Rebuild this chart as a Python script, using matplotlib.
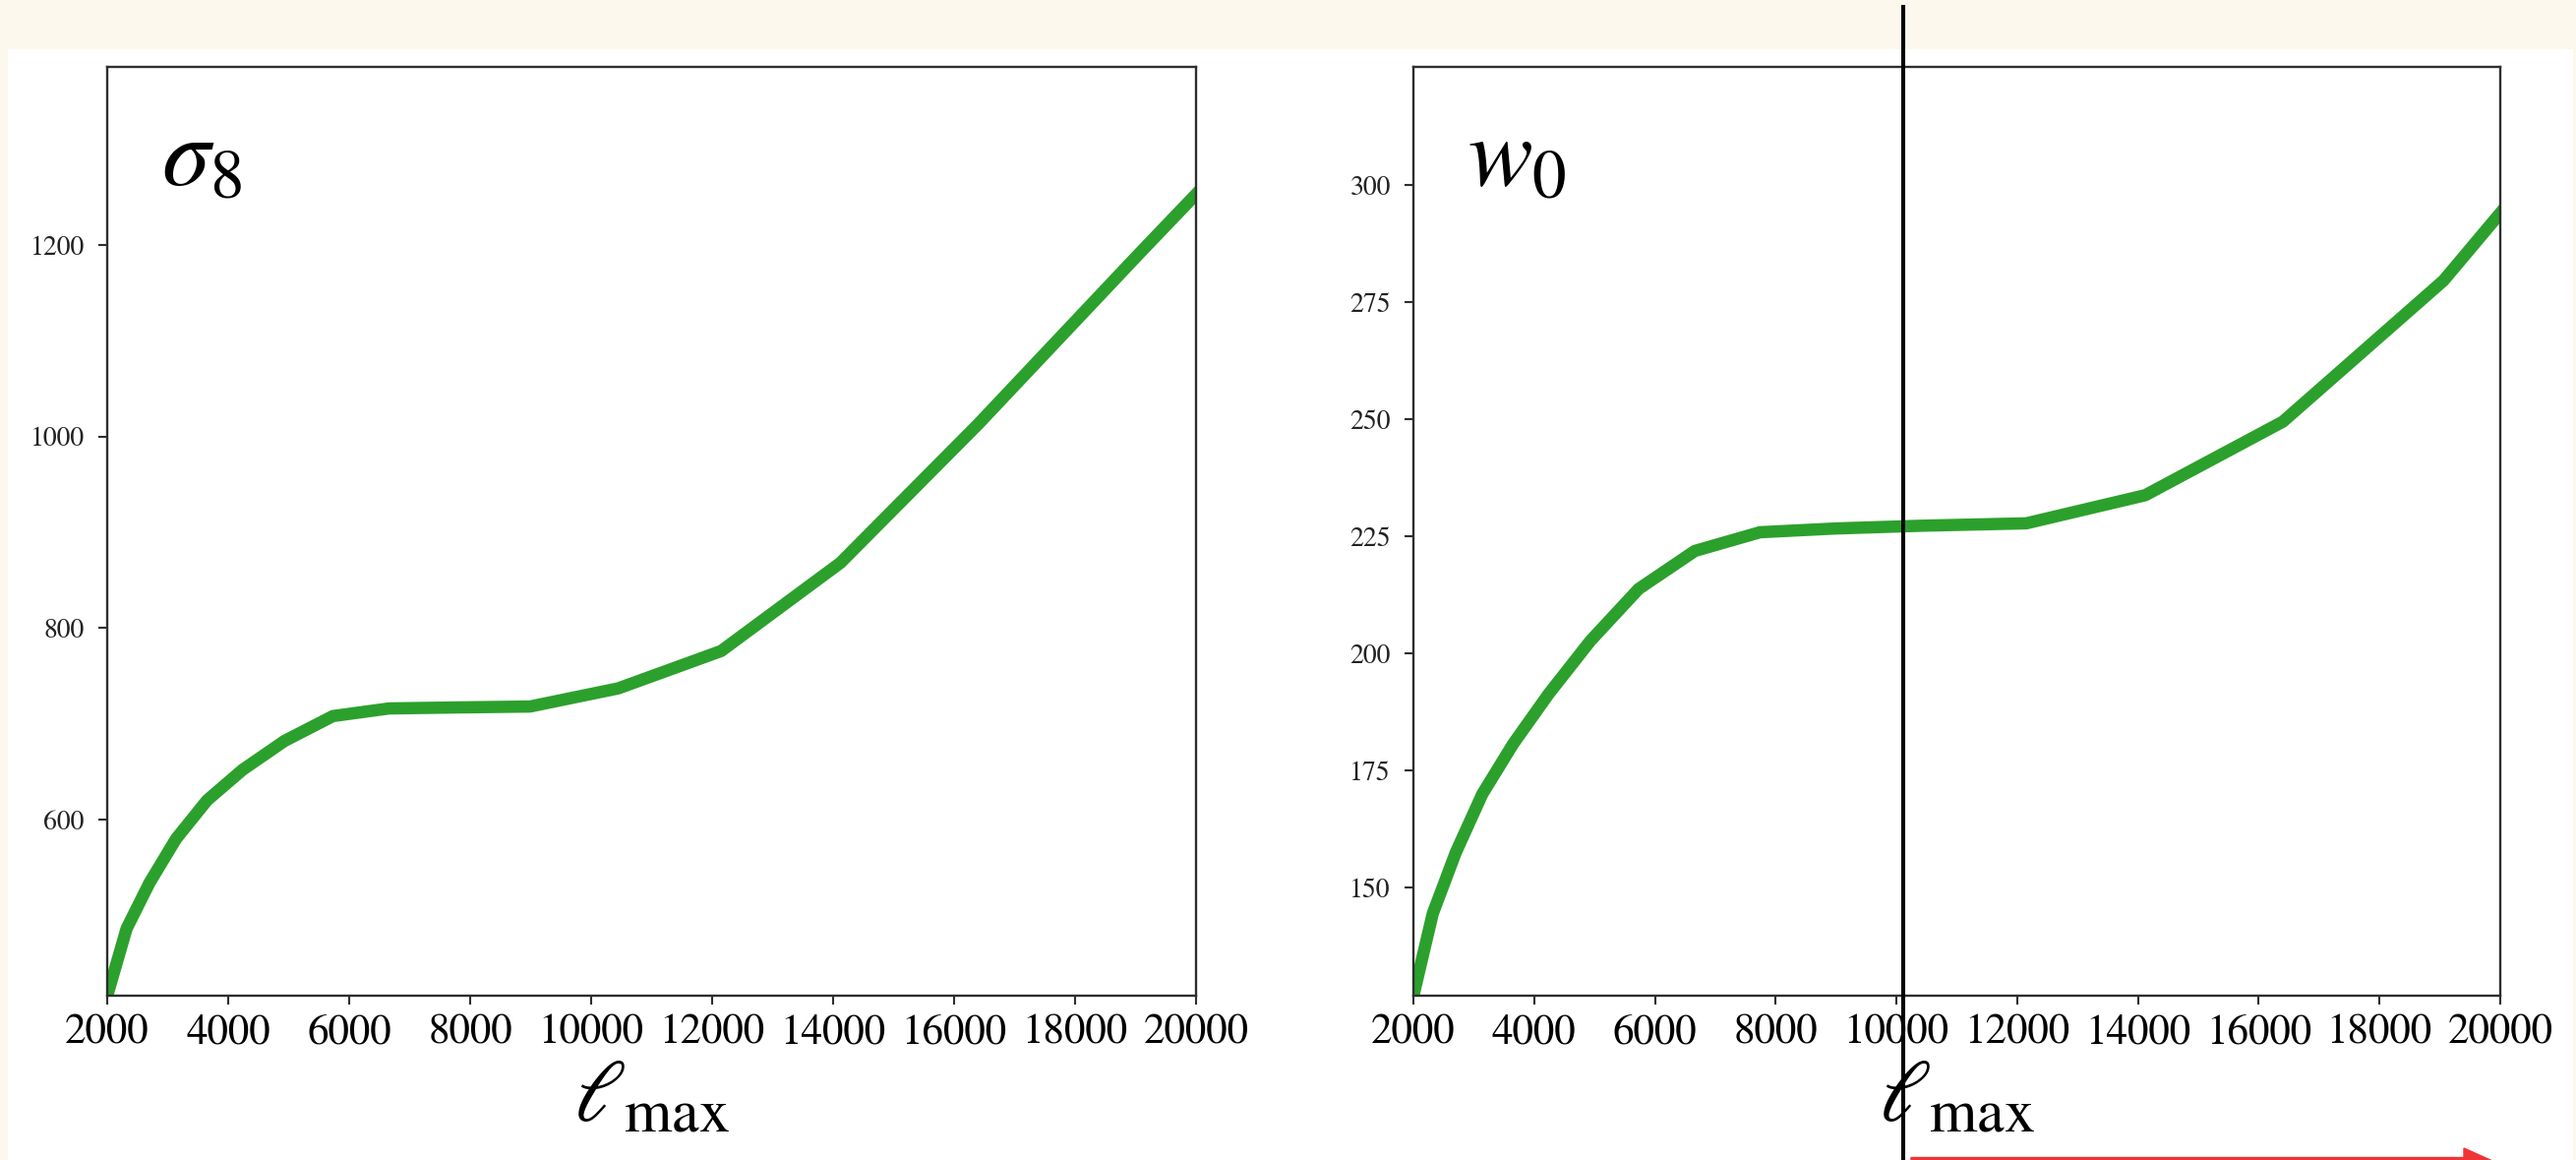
import matplotlib
matplotlib.use("Agg")
import matplotlib.pyplot as plt
from matplotlib.patches import Rectangle, FancyArrow
from matplotlib.lines import Line2D
from matplotlib.transforms import IdentityTransform

# Maximum multipole of the analysis
ell_max = [2000, 2320, 2700, 3140, 3650, 4240, 4930, 5730, 6660, 7740,
           8990, 10450, 12150, 14120, 16400, 19060, 20000]

# Figure-of-merit versus ell_max for each parameter
sigma8_vals = [416, 486, 534, 580, 620, 652, 682, 708, 716, 717,
               718, 737, 776, 868, 1013, 1191, 1253]
w0_vals = [127, 144.5, 157.5, 170.0, 180.7, 191.4, 202.7, 213.8, 221.9, 225.9,
           226.7, 227.3, 227.8, 233.8, 249.5, 279.6, 294.0]

x_ticks = [2000, 4000, 6000, 8000, 10000, 12000, 14000, 16000, 18000, 20000]
sigma8_yticks = [600, 800, 1000, 1200]
w0_yticks = [150, 175, 200, 225, 250, 275, 300]

W, H = 2619, 1179
plt.rcParams["font.family"] = ["STIXGeneral", "DejaVu Serif"]
plt.rcParams["mathtext.fontset"] = "stix"

fig = plt.figure(figsize=(W / 100, H / 100), dpi=100, facecolor="#fdf8ed")

# white slide area below the cream header band
fig.patches.append(Rectangle((8 / W, 0), (2616 - 8) / W, (H - 50) / H,
                             transform=fig.transFigure, facecolor="white",
                             edgecolor="none", zorder=-5))

green = "#2ca02c"
spine_col = "#2e2e2e"


def panel(rect, y, ylim, yticks, label):
    ax = fig.add_axes(rect)
    ax.plot(ell_max, y, color=green, lw=9, solid_joinstyle="round")
    ax.set_xlim(2000, 20000)
    ax.set_ylim(*ylim)
    ax.set_xticks(x_ticks)
    ax.set_yticks(yticks)
    for s in ax.spines.values():
        s.set_color(spine_col)
        s.set_linewidth(1.7)
    ax.tick_params(axis="both", direction="out", length=6.7, width=1.5,
                   color=spine_col)
    ax.tick_params(axis="x", labelsize=31, pad=7)
    ax.tick_params(axis="y", labelsize=20, pad=10, labelcolor="#222222")
    ax.set_xlabel(r"$\ell_{\rm max}$", fontsize=64, labelpad=6)
    ax.text(0.05, 0.873, label, transform=ax.transAxes, fontsize=71,
            ha="left", va="baseline")
    return ax


panel([109 / W, (H - 1012) / H, 1107 / W, 944 / H], sigma8_vals,
      (416, 1386), sigma8_yticks, r"$\sigma_8$")
panel([1437 / W, (H - 1012) / H, 1105 / W, 944 / H], w0_vals,
      (127, 325.2), w0_yticks, r"$w_0$")

# vertical marker line across the right panel
fig.add_artist(Line2D([1935 / W, 1935 / W], [0, 1 - 7 / H],
                      transform=fig.transFigure, color="black", lw=2.9,
                      zorder=20))

# red arrow along the bottom edge
fig.add_artist(FancyArrow(1943, -0.5, 590, 0, width=6, head_width=25,
                          head_length=28, length_includes_head=True,
                          transform=IdentityTransform(), color="#ef3434",
                          zorder=20))

fig.savefig("out.png", dpi=100, facecolor=fig.get_facecolor())
